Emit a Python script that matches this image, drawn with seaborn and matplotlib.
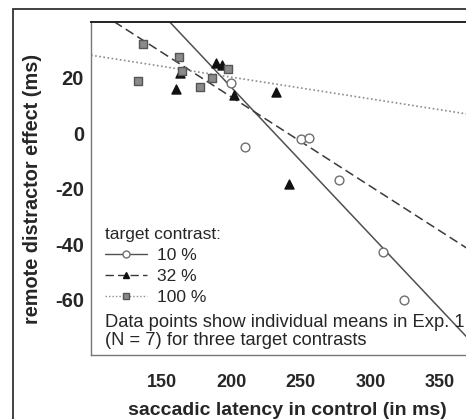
import numpy as np
import pandas as pd
import matplotlib
matplotlib.use("Agg")
import matplotlib.pyplot as plt
from matplotlib.patches import Rectangle
from matplotlib.lines import Line2D
import seaborn as sns

# ---- data ----
lat_10 = [199.6, 209.7, 249.8, 255.8, 277.6, 308.8, 323.9]
eff_10 = [18.1, -5.1, -1.9, -1.5, -16.7, -43.0, -60.0]
lat_32 = [188.6, 193.4, 159.9, 163.0, 202.0, 231.8, 241.4]
eff_32 = [25.4, 24.5, 16.1, 21.7, 14.0, 14.9, -18.3]
lat_100 = [136.5, 162.5, 164.2, 133.0, 177.3, 185.8, 197.7]
eff_100 = [32.3, 27.7, 22.4, 18.8, 16.7, 19.9, 23.3]
contrasts = ["10 %", "32 %", "100 %"]
x_ticks = [150, 200, 250, 300, 350]
y_ticks = [20, 0, -20, -40, -60]

df = pd.DataFrame({
    "latency": lat_10 + lat_32 + lat_100,
    "effect": eff_10 + eff_32 + eff_100,
    "contrast": [contrasts[0]] * len(lat_10) + [contrasts[1]] * len(lat_32)
                + [contrasts[2]] * len(lat_100),
})

sns.set_style("white")
plt.rcParams["font.family"] = ["Liberation Sans", "DejaVu Sans"]

W, H = 466, 419
fig = plt.figure(figsize=(W / 100, H / 100), dpi=100)

# outer frame of the figure panel (extends beyond the crop)
fig.add_artist(Rectangle((13 / W, -0.5), 2.0, 0.5 + 1 - 9 / H, transform=fig.transFigure,
                         fill=False, lw=1.3, ec="#333333"))

ax_w = 390.6
ax_h = 333.0
ax = fig.add_axes([91 / W, 64 / H, ax_w / W, ax_h / H])
ax.set_xlim(99, 380)
ax.set_ylim(-80, 40.2)

styles = {
    "10 %": dict(marker="o", s=40, fc="white", ec="#6f6f6f", lc="#505050", ls="-", lw=1.1, ms=5),
    "32 %": dict(marker="^", s=42, fc="#111111", ec="#111111", lc="#3a3a3a", ls=(0, (6, 3)), lw=1.1, ms=5),
    "100 %": dict(marker="s", s=38, fc="#8a8a8a", ec="#555555", lc="#8c8c8c", ls=(0, (1, 1.5)), lw=1.2, ms=5),
}

handles = []
for c in contrasts:
    st = styles[c]
    sub = df[df["contrast"] == c]
    sns.regplot(data=sub, x="latency", y="effect", ax=ax, ci=None, truncate=False,
                marker=st["marker"],
                scatter_kws=dict(s=st["s"], facecolors=st["fc"], edgecolors=st["ec"],
                                 linewidths=1.0, alpha=1, zorder=3),
                line_kws=dict(color=st["lc"], ls=st["ls"], lw=st["lw"], zorder=2))
    handles.append(Line2D([], [], color=st["lc"], ls=st["ls"], lw=1.0, marker=st["marker"],
                          markersize=st["ms"], markerfacecolor=st["fc"],
                          markeredgecolor=st["ec"]))

ax.set_xlim(99, 380)
ax.set_ylim(-80, 40.2)
ax.set_xticks(x_ticks)
ax.set_yticks(y_ticks)
ax.set_xticklabels([str(v) for v in x_ticks], fontweight="bold", fontsize=13)
ax.set_yticklabels([str(v) for v in y_ticks], fontweight="bold", fontsize=14.5)
ax.tick_params(axis="x", direction="out", length=5, width=1, color="#888888", pad=9)
ax.tick_params(axis="y", direction="out", length=4, width=1, color="#888888", pad=1)

for side in ["left", "bottom"]:
    ax.spines[side].set_color("#777777")
    ax.spines[side].set_linewidth(1.0)
ax.spines["top"].set_color("#222222")
ax.spines["top"].set_linewidth(1.4)
ax.spines["right"].set_visible(False)

ax.set_xlabel("saccadic latency in control (in ms)", fontweight="bold", fontsize=14,
              va="baseline")
ax.xaxis.set_label_coords(0.502, (355 - 414.5) / ax_h)
ax.set_ylabel("remote distractor effect (ms)", fontweight="bold", fontsize=14.3, va="center")
ax.yaxis.set_label_coords((33 - 91) / ax_w, 0.5)

leg = ax.legend(handles, contrasts, title="target contrast:", loc="upper left",
                bbox_to_anchor=((105 - 91) / ax_w, (355 - 227) / ax_h),
                frameon=False, fontsize=12.5, title_fontsize=12.5, borderpad=0,
                borderaxespad=0, handlelength=2.4, handletextpad=0.6, labelspacing=0.33,
                alignment="left")

ax.text((105 - 91) / ax_w, (355 - 345) / ax_h,
        "Data points show individual means in Exp. 1\n(N = 7) for three target contrasts",
        transform=ax.transAxes, fontsize=13.2, ha="left", va="baseline", linespacing=1.08)

fig.savefig("out.png", dpi=100)
